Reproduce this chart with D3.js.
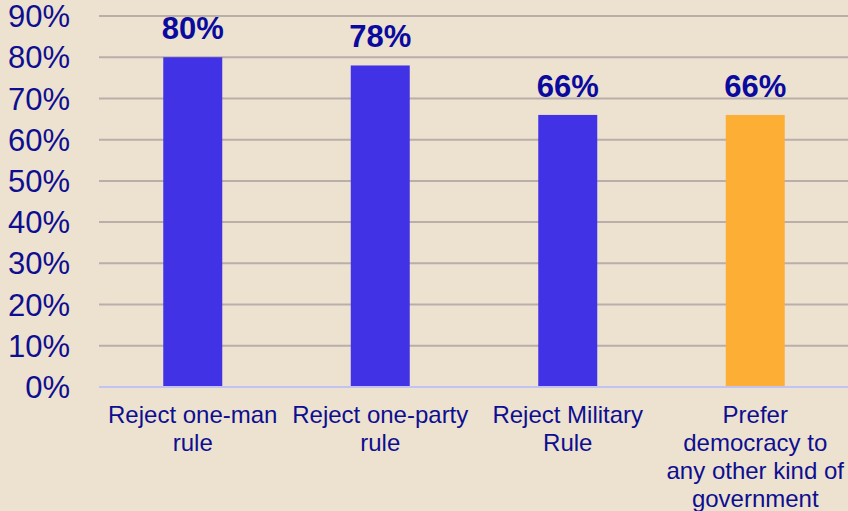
<!DOCTYPE html>
<html><head><meta charset="utf-8">
<script src="https://cdn.jsdelivr.net/npm/d3@7"></script>
<style>html,body{margin:0;padding:0;background:#EDE2D0;}svg{display:block;}</style>
</head><body>
<script>
const categories = [["Reject one-man","rule"],["Reject one-party","rule"],["Reject Military","Rule"],["Prefer","democracy to","any other kind of","government"]];
const values = [80,78,66,66];
const barColors = ["#4232E6","#4232E6","#4232E6","#FDAE35"];
const tickValues = [0,10,20,30,40,50,60,70,80,90];

const W=848,H=511;
const svg=d3.select("body").append("svg").attr("width",W).attr("height",H);
svg.append("rect").attr("width",W).attr("height",H).attr("fill","#EDE2D0");

const x=d3.scaleBand().domain(d3.range(values.length)).range([99,849]).padding(0);
const y=d3.scaleLinear().domain([0,90]).range([387,16]);
const textColor="#0E0E90";
const font="Arial, 'Liberation Sans', sans-serif";

svg.append("g").selectAll("line").data(tickValues.filter(t=>t>0)).join("line")
  .attr("x1",99).attr("x2",W).attr("y1",d=>y(d)).attr("y2",d=>y(d))
  .attr("stroke","#B9AEA9").attr("stroke-width",2);

const bw=59;
svg.append("g").selectAll("rect").data(values).join("rect")
  .attr("x",(d,i)=>x(i)+(x.bandwidth()-bw)/2).attr("width",bw)
  .attr("y",d=>y(d)).attr("height",d=>y(0)-y(d))
  .attr("fill",(d,i)=>barColors[i]);

svg.append("line").attr("x1",99).attr("x2",W).attr("y1",y(0)).attr("y2",y(0))
  .attr("stroke","#C2C2F4").attr("stroke-width",2);

svg.append("g").selectAll("text").data(tickValues).join("text")
  .attr("x",70).attr("y",d=>y(d)).attr("dy","0.36em")
  .attr("text-anchor","end").attr("font-family",font)
  .attr("font-size",31).attr("fill",textColor).text(d=>d+"%");

svg.append("g").selectAll("text").data(values).join("text")
  .attr("x",(d,i)=>x(i)+x.bandwidth()/2).attr("y",d=>y(d)-18)
  .attr("text-anchor","middle").attr("font-family",font)
  .attr("font-weight","bold").attr("font-size",31).attr("fill","#0A0A9E").text(d=>d+"%");

const cat=svg.append("g").selectAll("text").data(categories).join("text")
  .attr("x",(d,i)=>x(i)+x.bandwidth()/2).attr("y",423)
  .attr("text-anchor","middle").attr("font-family",font)
  .attr("font-size",24).attr("fill",textColor);
cat.selectAll("tspan").data(d=>d).join("tspan")
  .attr("x",function(){return this.parentNode.getAttribute("x");})
  .attr("dy",(d,j)=>j===0?0:28).text(d=>d);
</script>
</body></html>
